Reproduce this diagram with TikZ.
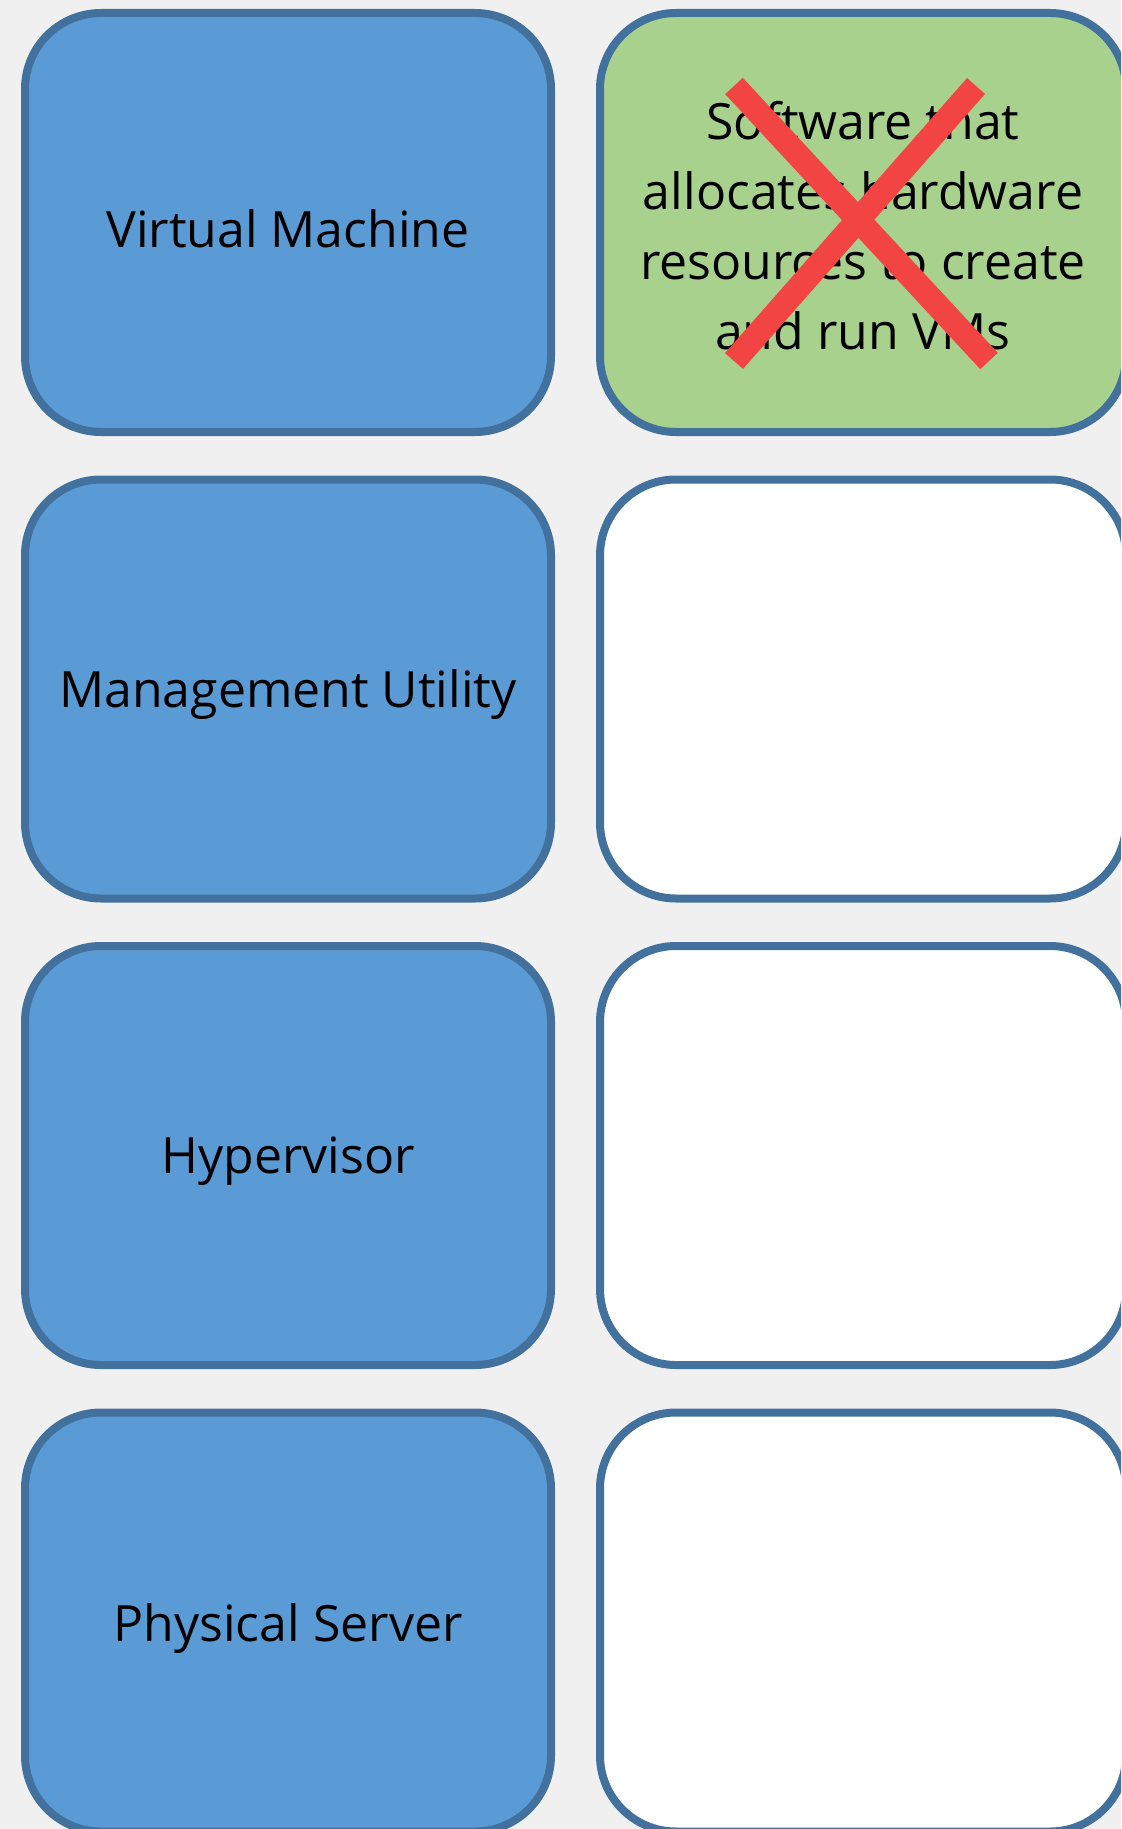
\documentclass[tikz,border=0pt]{standalone}
\usepackage{fontspec}
\setmainfont{Open Sans}
\usetikzlibrary{positioning}

\definecolor{pagegray}{HTML}{F0F0F0}
\definecolor{boxblue}{HTML}{5B9BD5}
\definecolor{edgeblue}{HTML}{41719C}
\definecolor{answergreen}{HTML}{A9D18E}
\definecolor{crossred}{HTML}{F34444}

\begin{document}
\begin{tikzpicture}[x=0.5pt, y=-0.5pt,
    card/.style={draw=edgeblue, line width=4pt, rounded corners=38pt,
        minimum width=263pt, minimum height=209.5pt, inner sep=0pt, outer sep=0pt},
    term/.style={card, fill=boxblue},
    answer/.style={card, fill=white},
    label/.style={align=center, font=\fontsize{25}{35}\selectfont},
    strike/.style={crossred, line width=12pt}]
    % Page
    \fill[pagegray] (0,0) rectangle (1121,1829);
    \useasboundingbox (0,0) rectangle (1121,1829);
    \clip (0,0) rectangle (1121,1829);

    % Terms (left column)
    \node[term] (VM) at (288, 222.5) {};
    \node[term] (MU) at (288, 689) {};
    \node[term] (HV) at (288, 1155.5) {};
    \node[term] (PS) at (288, 1622) {};
    \node[label] at ([yshift=-3pt]VM.center) {Virtual Machine};
    \node[label] at ([yshift=-3pt]MU.center) {Management Utility};
    \node[label] at ([yshift=-3pt]HV.center) {Hypervisor};
    \node[label] at ([yshift=-3pt]PS.center) {Physical Server};

    % Answers (right column)
    \node[answer, fill=answergreen] (A1) at (863, 222.5) {};
    \node[answer] (A2) at (863, 689) {};
    \node[answer] (A3) at (863, 1155.5) {};
    \node[answer] (A4) at (863, 1622) {};
    \node[label] (A1text) at ([yshift=-1.75pt]A1.center) {Software that\\allocates hardware\\resources to create\\and run VMs};

    % Cross over the wrong answer
    \coordinate (X1) at (734, 86);
    \coordinate (X2) at (989, 361);
    \coordinate (X3) at (976, 86);
    \coordinate (X4) at (734, 361);
    \draw[strike] (X1) -- (X2);
    \draw[strike] (X3) -- (X4);
\end{tikzpicture}
\end{document}
